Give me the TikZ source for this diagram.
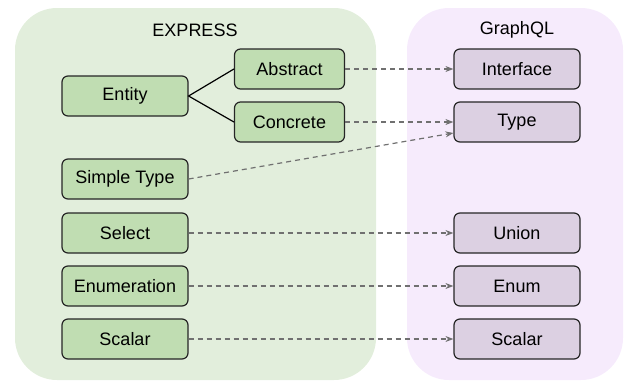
\documentclass[tikz,border=0pt]{standalone}
\usepackage{fontspec}
\setmainfont{Liberation Sans}
\usetikzlibrary{arrows.meta}
\definecolor{gpanel}{HTML}{E2EEDC}
\definecolor{ppanel}{HTML}{F6EBFC}
\definecolor{gbox}{HTML}{C0DDB2}
\definecolor{pbox}{HTML}{DCD0E2}
\definecolor{arrgray}{HTML}{707070}
\begin{document}
\begin{tikzpicture}[x=1pt,y=-1pt,font=\fontsize{18}{21}\selectfont,
  box/.style={draw=black!85,line width=1.2pt,rounded corners=6pt,minimum height=40pt,inner sep=2pt},
  ebox/.style={box,fill=gbox,minimum width=126pt},
  sbox/.style={box,fill=gbox,minimum width=110pt},
  gbx/.style={box,fill=pbox,minimum width=126pt},
  map/.style={draw=arrgray,line width=1.2pt,dash pattern=on 5pt off 4pt,-{Stealth[length=8pt,width=6pt,fill=arrgray]}},
  tree/.style={draw=black,line width=1.2pt}]
\useasboundingbox (0,0) rectangle (625,381);
\fill[gpanel,rounded corners=42pt] (15,8) rectangle (376,380);
\fill[ppanel,rounded corners=42pt] (407,8) rectangle (623,380);
\node (lexp) at (195,30) {EXPRESS};
\node (lgql) at (517,30) {GraphQL};
\node[ebox] (ent) at (125,96) {Entity};
\node[ebox] (st) at (125,179) {Simple Type};
\node[ebox] (sel) at (125,233) {Select};
\node[ebox] (enu) at (125,286) {Enumeration};
\node[ebox] (sca) at (125,339) {Scalar};
\node[sbox] (abs) at (289.5,69) {Abstract};
\node[sbox] (con) at (289.5,122) {Concrete};
\node[gbx] (itf) at (517,69) {Interface};
\node[gbx] (typ) at (517,122) {Type};
\node[gbx] (uni) at (517,233) {Union};
\node[gbx] (gen) at (517,286) {Enum};
\node[gbx] (gsc) at (517,339) {Scalar};
\draw[tree] (abs.west) -- (ent.east) -- (con.west);
\draw[map] (abs) -- (itf);
\draw[map] (con) -- (typ);
\draw[map] (st.east) -- ([yshift=-11pt]typ.west);
\draw[map] (sel) -- (uni);
\draw[map] (enu) -- (gen);
\draw[map] (sca) -- (gsc);
\end{tikzpicture}
\end{document}
